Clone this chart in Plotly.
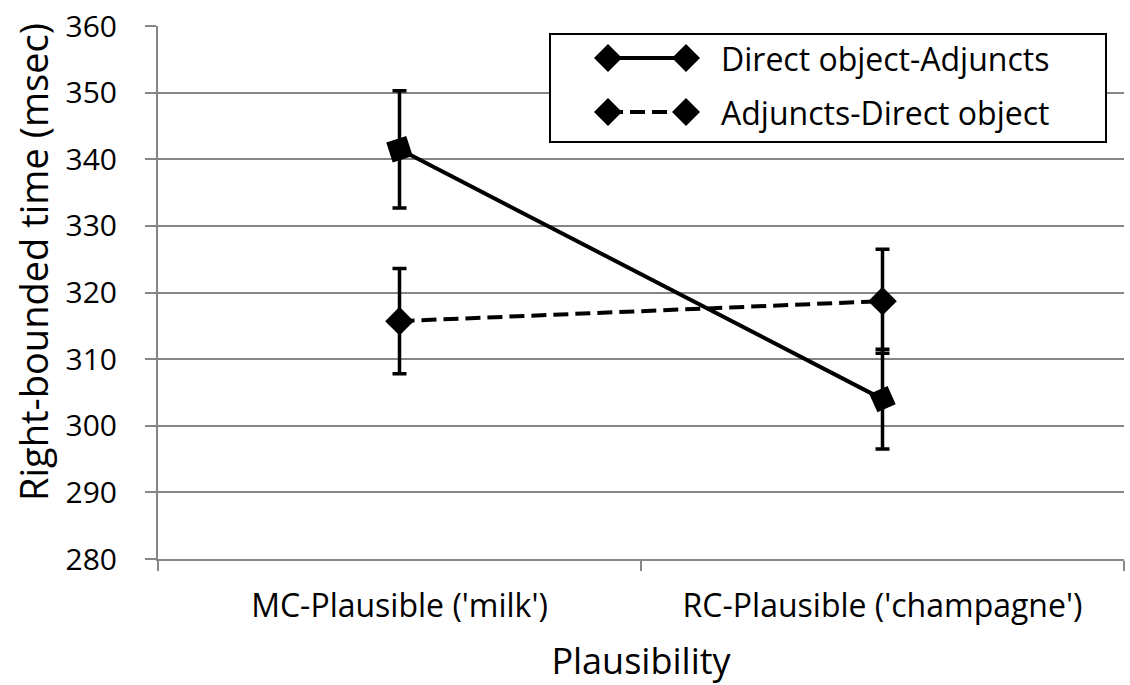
import plotly.graph_objects as go

categories = ["MC-Plausible ('milk')", "RC-Plausible ('champagne')"]
series_names = ["Direct object-Adjuncts", "Adjuncts-Direct object"]
do_adj = [341.5, 304.0]
do_adj_err = [8.8, 7.5]
adj_do = [315.7, 318.7]
adj_do_err = [7.9, 7.8]
y_ticks = [280, 290, 300, 310, 320, 330, 340, 350, 360]

FONT = "Open Sans"
W, H = 1130, 685
L, R, T, B = 158, 6, 26, 126
PW, PH = W - L - R, H - T - B
SX0, SY1 = L, T + PH  # screen coords of plot left / bottom


def px(x):
    return (x - SX0) / PW


def py(y):
    return (SY1 - y) / PH


DASH = "15px,7px"

fig = go.Figure()
fig.add_trace(go.Scatter(
    x=categories, y=do_adj, name=series_names[0], mode="lines+markers",
    line=dict(color="black", width=4),
    marker=dict(symbol="square", size=[21, 20], angle=[-18, -24], color="black",
                opacity=1, line=dict(width=0)),
    error_y=dict(type="data", array=do_adj_err, visible=True, color="black", thickness=3.5, width=7),
    showlegend=False,
))
fig.add_trace(go.Scatter(
    x=categories, y=adj_do, name=series_names[1], mode="lines+markers",
    line=dict(color="black", width=4, dash=DASH),
    marker=dict(symbol="diamond", size=22, color="black", opacity=1, line=dict(width=0)),
    error_y=dict(type="data", array=adj_do_err, visible=True, color="black", thickness=3.5, width=7),
    showlegend=False,
))

grid = "#868686"
fig.update_layout(
    width=W, height=H,
    margin=dict(l=L, r=R, t=T, b=B, autoexpand=False),
    paper_bgcolor="white", plot_bgcolor="white",
    font=dict(family=FONT, color="black"),
    xaxis=dict(
        type="category", range=[-0.5, 1.5], tickson="boundaries",
        ticks="outside", ticklen=10, tickcolor=grid, tickwidth=2,
        showline=True, linecolor=grid, linewidth=2, showgrid=False,
        tickfont=dict(size=32), ticklabelstandoff=18,
        title=dict(text="Plausibility", font=dict(size=36), standoff=27),
    ),
    yaxis=dict(
        range=[280, 360], tickvals=y_ticks,
        ticks="outside", ticklen=11, tickcolor=grid, tickwidth=2,
        showline=True, linecolor=grid, linewidth=2,
        showgrid=True, gridcolor=grid, gridwidth=2,
        tickfont=dict(size=30), ticklabelstandoff=22, zeroline=False,
        ticklabeloverflow="allow",
    ),
)

# Y-axis title (placed as in the original, slightly above the axis centre)
fig.add_annotation(x=px(33), y=py(262), xref="paper", yref="paper",
                   text="Right-bounded time (msec)", textangle=-90, showarrow=False,
                   xanchor="center", yanchor="middle",
                   font=dict(size=38, family=FONT, color="black"))

# Custom legend (key line with a marker at each end, as in the original)
box = dict(x0=550, x1=1106, y0=34, y1=142)
fig.add_shape(type="rect", xref="paper", yref="paper",
              x0=px(box["x0"]), x1=px(box["x1"]), y0=py(box["y1"]), y1=py(box["y0"]),
              line=dict(color="black", width=2), fillcolor="white", layer="above")
rows = [(58, "solid"), (112, DASH)]
for (ry, dash), name in zip(rows, series_names):
    fig.add_shape(type="line", xref="paper", yref="paper",
                  x0=px(608), x1=px(686), y0=py(ry), y1=py(ry),
                  line=dict(color="black", width=4, dash=dash), layer="above")
    for cx in (608, 686):
        d = 14
        path = (f"M {px(cx - d)},{py(ry)} L {px(cx)},{py(ry - d)} "
                f"L {px(cx + d)},{py(ry)} L {px(cx)},{py(ry + d)} Z")
        fig.add_shape(type="path", xref="paper", yref="paper", path=path,
                      fillcolor="black", line=dict(color="black", width=0), layer="above")
    fig.add_annotation(x=px(719), y=py(ry), xref="paper", yref="paper",
                       text=name, showarrow=False, xanchor="left", yanchor="middle",
                       font=dict(size=32, family=FONT, color="black"))

fig.write_html("out.html", config={"displayModeBar": False},
               post_script="document.body.style.margin='0';")
